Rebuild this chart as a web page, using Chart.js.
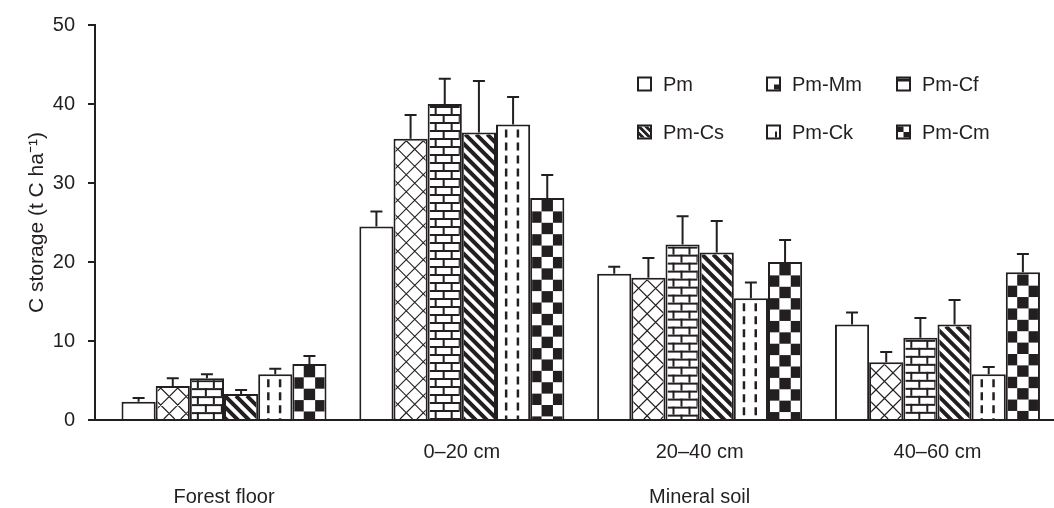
<!DOCTYPE html>
<html>
<head>
<meta charset="utf-8">
<title>C storage</title>
<script src="https://cdn.jsdelivr.net/npm/chart.js@4.4.1/dist/chart.umd.min.js"></script>
<style>
  html, body { margin: 0; padding: 0; background: #fff; }
  #wrap { width: 1054px; height: 508px; }
</style>
</head>
<body>
<div id="wrap"><canvas id="storageChart" width="1054" height="508"></canvas></div>
<script>
// categories (forest floor + three mineral soil depths)
const depthLabels = [['', '', 'Forest floor'], '0–20 cm', ['20–40 cm', '', 'Mineral soil'], '40–60 cm'];
const seriesNames = ['Pm', 'Pm-Mm', 'Pm-Cf', 'Pm-Cs', 'Pm-Ck', 'Pm-Cm'];
const yTicks = [0, 10, 20, 30, 40, 50];

// mean C storage (t C ha-1)
const pmValues   = [2.3, 24.5, 18.5, 12.1];
const pmMmValues = [4.3, 35.6, 18.0, 7.3];
const pmCfValues = [5.3, 40.0, 22.2, 10.4];
const pmCsValues = [3.3, 36.4, 21.2, 12.1];
const pmCkValues = [5.8, 37.4, 15.4, 5.8];
const pmCmValues = [7.1, 28.1, 20.0, 18.7];

// upper error bars
const pmErrors   = [0.5, 1.9, 0.9, 1.5];
const pmMmErrors = [1.0, 3.0, 2.5, 1.3];
const pmCfErrors = [0.5, 3.2, 3.6, 2.5];
const pmCsErrors = [0.5, 6.5, 4.0, 3.1];
const pmCkErrors = [0.7, 3.5, 2.0, 0.9];
const pmCmErrors = [1.0, 2.9, 2.8, 2.3];

const allValues = [pmValues, pmMmValues, pmCfValues, pmCsValues, pmCkValues, pmCmValues];
const allErrors = [pmErrors, pmMmErrors, pmCfErrors, pmCsErrors, pmCkErrors, pmCmErrors];

const INK = '#231f20';
const FONT = '"Liberation Sans", Arial, Helvetica, sans-serif';

// --- fill patterns, drawn inside each bar rect ---
function drawPattern(ctx, kind, l, t, w, h) {
    ctx.save();
    ctx.beginPath();
    ctx.rect(l, t, w, h);
    ctx.clip();
    ctx.fillStyle = INK;
    ctx.strokeStyle = INK;
    if (kind === 1) { // lattice
        const p = 17;
        ctx.lineWidth = 1.2;
        ctx.beginPath();
        for (let x = l - h - p; x < l + w + h + p; x += p) {
            ctx.moveTo(x, t); ctx.lineTo(x + h, t + h);
            ctx.moveTo(x, t); ctx.lineTo(x - h, t + h);
        }
        ctx.stroke();
    } else if (kind === 2) { // bricks
        for (let r = 0, y = t; y < t + h; r++, y += 8) {
            ctx.fillRect(l, y, w, 2);
            const off = r % 2 ? 13 : 5;
            for (let x = l + off; x < l + w; x += 16) ctx.fillRect(x, y, 2, 8);
        }
    } else if (kind === 3) { // diagonal stripes
        ctx.lineWidth = 4;
        ctx.beginPath();
        for (let x = l - h - 11; x < l + w + 11; x += 11) {
            ctx.moveTo(x, t); ctx.lineTo(x + h + 11, t + h + 11);
        }
        ctx.stroke();
    } else if (kind === 4) { // dashed verticals
        ctx.lineWidth = 2.5;
        ctx.setLineDash([8, 5]);
        ctx.beginPath();
        [0.27, 0.66].forEach(f => {
            const x = l + w * f;
            ctx.moveTo(x, t + 3); ctx.lineTo(x, t + h);
        });
        ctx.stroke();
    } else if (kind === 5) { // checker
        const s = (w + 4) / 3;
        for (let r = 0; t + r * s < t + h; r++) {
            for (let c = 0; c < 3; c++) {
                if ((r + c) % 2 === 1) ctx.fillRect(l - 2 + c * s, t + r * s, s, s);
            }
        }
    }
    ctx.restore();
}

const patternPlugin = {
    id: 'patterns',
    afterDatasetsDraw(chart) {
        const ctx = chart.ctx;
        chart.data.datasets.forEach((ds, di) => {
            const meta = chart.getDatasetMeta(di);
            meta.data.forEach(bar => {
                const p = bar.getProps(['x', 'y', 'base', 'width'], true);
                const l = p.x - p.width / 2 + 2;
                const t = p.y + 2;
                drawPattern(ctx, di, l, t, p.width - 4, p.base - t);
            });
        });
        // error bars (upper only)
        const yScale = chart.scales.y;
        ctx.save();
        ctx.strokeStyle = INK;
        ctx.lineWidth = 2;
        chart.data.datasets.forEach((ds, di) => {
            const meta = chart.getDatasetMeta(di);
            meta.data.forEach((bar, i) => {
                const p = bar.getProps(['x', 'y'], true);
                const top = yScale.getPixelForValue(allValues[di][i] + allErrors[di][i]);
                ctx.beginPath();
                ctx.moveTo(p.x, p.y);
                ctx.lineTo(p.x, top);
                ctx.moveTo(p.x - 6, top);
                ctx.lineTo(p.x + 6, top);
                ctx.stroke();
            });
        });
        ctx.restore();
    }
};

// legend: 3 columns x 2 rows inside the plot
const legendPlugin = {
    id: 'gridLegend',
    afterDraw(chart) {
        const ctx = chart.ctx;
        const area = chart.chartArea;
        const colX = [542, 671, 801];
        const rowY = [59, 107];
        ctx.save();
        chart.data.datasets.forEach((ds, i) => {
            const bx = area.left + colX[i % 3];
            const cy = area.top + rowY[Math.floor(i / 3)];
            const by = cy - 7.5;
            ctx.fillStyle = INK;
            ctx.fillRect(bx, by, 15, 15);
            ctx.fillStyle = '#fff';
            ctx.fillRect(bx + 2, by + 2, 11, 11);
            ctx.fillStyle = INK;
            if (i === 1) ctx.fillRect(bx + 8, by + 8, 5, 5);
            if (i === 2) ctx.fillRect(bx + 2, by + 2, 11, 3);
            if (i === 3) {
                ctx.save();
                ctx.beginPath(); ctx.rect(bx + 2, by + 2, 11, 11); ctx.clip();
                ctx.strokeStyle = INK; ctx.lineWidth = 3;
                ctx.beginPath();
                for (let k = -14; k < 14; k += 7) { ctx.moveTo(bx + k, by); ctx.lineTo(bx + k + 15, by + 15); }
                ctx.stroke();
                ctx.restore();
            }
            if (i === 4) ctx.fillRect(bx + 9, by + 7, 2, 6);
            if (i === 5) { ctx.fillRect(bx + 2, by + 2, 5.5, 5.5); ctx.fillRect(bx + 7.5, by + 7.5, 5.5, 5.5); }
            ctx.fillStyle = INK;
            ctx.font = '20px ' + FONT;
            ctx.textBaseline = 'middle';
            ctx.textAlign = 'left';
            ctx.fillText(ds.label, bx + 26, cy + 1);
        });
        ctx.restore();
    }
};

const datasets = seriesNames.map((name, si) => ({
    label: name,
    data: allValues[si].map((v, i) => ({ x: i, y: v })),
    backgroundColor: '#ffffff',
    borderColor: INK,
    borderWidth: 2,
    categoryPercentage: 0.862,
    barPercentage: 1.0
}));

const ctx = document.getElementById('storageChart').getContext('2d');
new Chart(ctx, {
    type: 'bar',
    data: { datasets: datasets },
    plugins: [patternPlugin, legendPlugin],
    options: {
        responsive: false,
        animation: false,
        layout: { padding: { top: 23, right: 0, bottom: 0, left: 0 } },
        plugins: { legend: { display: false }, tooltip: { enabled: false } },
        scales: {
            x: {
                type: 'linear',
                offset: false,
                min: -0.5425,
                max: 3.49,
                afterBuildTicks: scale => { scale.ticks = depthLabels.map((_, i) => ({ value: i })); },
                afterFit: scale => { scale.height = 88; },
                grid: { display: false, offset: false },
                border: { display: true, color: INK, width: 2 },
                ticks: {
                    autoSkip: false,
                    maxRotation: 0,
                    padding: 13,
                    color: INK,
                    font: { family: FONT, size: 20, lineHeight: 1.13 },
                    callback: value => depthLabels[value]
                }
            },
            y: {
                min: 0,
                max: 50,
                afterBuildTicks: scale => { scale.ticks = yTicks.map(v => ({ value: v })); },
                afterFit: scale => { scale.width = 95; },
                grid: { drawOnChartArea: false, drawTicks: true, tickLength: 7, color: INK, lineWidth: 2 },
                border: { display: true, color: INK, width: 2 },
                ticks: { padding: 13, color: INK, font: { family: FONT, size: 20 } },
                title: {
                    display: true,
                    text: 'C storage (t C ha⁻¹)',
                    color: INK,
                    font: { family: FONT, size: 21 },
                    padding: { top: 25, bottom: 0 }
                }
            }
        }
    }
});
</script>
</body>
</html>
